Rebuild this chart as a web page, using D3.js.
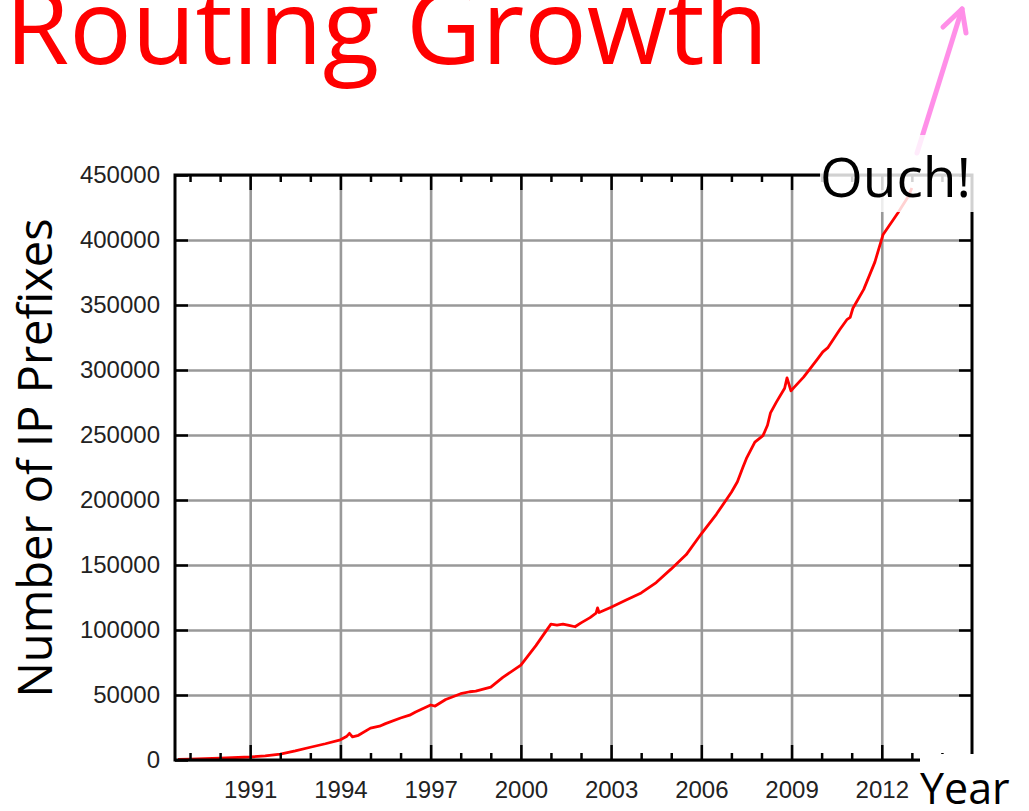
<!DOCTYPE html>
<html>
<head>
<meta charset="utf-8">
<script src="https://cdn.jsdelivr.net/npm/d3@7"></script>
<style>
  html, body { margin: 0; padding: 0; background: #fff; }
  svg { display: block; }
</style>
</head>
<body>
<svg id="chart" width="1029" height="811"></svg>
<script>
// ---- data ----
const years = [1988.6, 1989.0, 1990.0, 1991.0, 1991.5, 1992.0, 1992.5, 1993.0, 1993.5, 1994.0,
  1994.2, 1994.3, 1994.4, 1994.6, 1995.0, 1995.3, 1995.5, 1996.0, 1996.3, 1996.5, 1997.0, 1997.15,
  1997.5, 1998.0, 1998.3, 1998.5, 1999.0, 1999.4, 2000.0, 2000.5, 2000.8, 2001.0,
  2001.2, 2001.4, 2001.6, 2001.8, 2002.0, 2002.3, 2002.5, 2002.55, 2002.6, 2003.0,
  2003.5, 2004.0, 2004.5, 2005.0, 2005.5, 2006.0, 2006.5, 2007.0, 2007.2, 2007.38, 2007.5,
  2007.78, 2008.05, 2008.2, 2008.3, 2008.5, 2008.77, 2008.85, 2008.98, 2009.1, 2009.4,
  2009.6, 2009.88, 2010.04, 2010.2, 2010.6, 2010.85, 2010.95, 2011.04, 2011.4, 2011.77,
  2012.04, 2012.54, 2012.87, 2013.0];
const prefixes = [500, 700, 1500, 2300, 3200, 4600, 7000, 9800, 12500, 15500,
  18000, 20500, 17800, 19000, 24500, 26000, 28000, 32300, 34500, 37000, 42300, 41500,
  46500, 51000, 52500, 53000, 56000, 63500, 73000, 88000, 98000, 104500,
  103800, 104500, 103500, 102500, 105500, 109500, 113000, 117000, 113500, 117500,
  123000, 128500, 136500, 147000, 158000, 174000, 189000, 206000, 214000, 225000, 232000,
  244500, 249500, 257500, 267000, 275500, 286000, 294000, 284000, 287000, 294500,
  300500, 309000, 314000, 317000, 331000, 339000, 340500, 347500, 362000, 383000,
  404000, 421000, 433000, 440000];

const majorYears = [1991, 1994, 1997, 2000, 2003, 2006, 2009, 2012];
const majorYearLabels = ["1991", "1994", "1997", "2000", "2003", "2006", "2009", "2012"];
const minorYears = [1989, 1990, 1992, 1993, 1995, 1996, 1998, 1999, 2001, 2002, 2004, 2005,
  2007, 2008, 2010, 2011, 2013, 2014];
const yTicks = [0, 50000, 100000, 150000, 200000, 250000, 300000, 350000, 400000, 450000];
const yTickLabels = ["0", "50000", "100000", "150000", "200000", "250000", "300000", "350000", "400000", "450000"];

const titleText = "Routing Growth";
const yAxisTitle = "Number of IP Prefixes";
const xAxisTitle = "Year";
const calloutText = "Ouch!";

// ---- layout ----
const L = 175, R = 972, T = 175, B = 760;
const svg = d3.select("#chart");

const x = d3.scaleLinear().domain([1988.5, 2015]).range([L, R]);
const y = d3.scaleLinear().domain([0, 450000]).range([B, T]);

const tickFont = "'Liberation Sans', Arial, sans-serif";
const textFont = "'Open Sans', 'Noto Sans', sans-serif";

// grid
const gx = svg.append("g").attr("transform", `translate(0,${B})`)
  .call(d3.axisBottom(x).tickValues(majorYears).tickSize(-(B - T)).tickFormat(""));
gx.select(".domain").remove();
gx.selectAll("line").attr("stroke", "#999").attr("stroke-width", 2.6);

const gy = svg.append("g").attr("transform", `translate(${L},0)`)
  .call(d3.axisLeft(y).tickValues(yTicks).tickSize(-(R - L)).tickFormat(""));
gy.select(".domain").remove();
gy.selectAll("line").attr("stroke", "#999").attr("stroke-width", 2.6);

// curve
const data = years.map((yr, i) => ({ yr, v: prefixes[i] }));
svg.append("path")
  .datum(data)
  .attr("fill", "none")
  .attr("stroke", "#ff0000")
  .attr("stroke-width", 2.8)
  .attr("stroke-linejoin", "round")
  .attr("d", d3.line().x(d => x(d.yr)).y(d => y(d.v)));

// axes with inward ticks
function styleAxis(g) {
  g.select(".domain").remove();
  g.selectAll("line").attr("stroke", "#000").attr("stroke-width", 2.5);
  g.selectAll("text").attr("fill", "#222").attr("font-family", tickFont).attr("font-size", 24);
}

svg.append("g").attr("transform", `translate(0,${B})`)
  .call(d3.axisBottom(x).tickValues(majorYears).tickSize(-15).tickPadding(21)
    .tickFormat((d, i) => majorYearLabels[i]))
  .call(styleAxis);
svg.append("g").attr("transform", `translate(0,${B})`)
  .call(d3.axisBottom(x).tickValues(minorYears).tickSize(-7).tickFormat(""))
  .call(styleAxis);
svg.append("g").attr("transform", `translate(0,${T})`)
  .call(d3.axisTop(x).tickValues(majorYears).tickSize(-15).tickFormat(""))
  .call(styleAxis);
svg.append("g").attr("transform", `translate(0,${T})`)
  .call(d3.axisTop(x).tickValues(minorYears).tickSize(-7).tickFormat(""))
  .call(styleAxis);
svg.append("g").attr("transform", `translate(${L},0)`)
  .call(d3.axisLeft(y).tickValues(yTicks).tickSize(-13).tickPadding(15)
    .tickFormat((d, i) => yTickLabels[i]))
  .call(styleAxis);
svg.append("g").attr("transform", `translate(${R},0)`)
  .call(d3.axisRight(y).tickValues(yTicks).tickSize(-13).tickFormat(""))
  .call(styleAxis);

// frame
svg.append("rect")
  .attr("x", L).attr("y", T).attr("width", R - L).attr("height", B - T)
  .attr("fill", "none").attr("stroke", "#000").attr("stroke-width", 3);

// arrow
const pink = "#ff8fe8";
svg.append("line").attr("x1", 917).attr("y1", 153).attr("x2", 962).attr("y2", 9)
  .attr("stroke", pink).attr("stroke-width", 5).attr("stroke-linecap", "round");
svg.append("path").attr("d", "M943,27 L962,9 L966,33")
  .attr("fill", "none").attr("stroke", pink).attr("stroke-width", 5)
  .attr("stroke-linecap", "round").attr("stroke-linejoin", "round");

// callout box + text
svg.append("rect").attr("x", 820).attr("y", 135).attr("width", 156).attr("height", 77)
  .attr("fill", "#fff").attr("fill-opacity", 0.82);
svg.append("text").attr("x", 820).attr("y", 197)
  .attr("font-family", textFont).attr("font-size", 55).attr("fill", "#000")
  .text(calloutText);

// Year box + text
svg.append("rect").attr("x", 920).attr("y", 754).attr("width", 109).attr("height", 57)
  .attr("fill", "#fff");
svg.append("text").attr("x", 920).attr("y", 804)
  .attr("font-family", textFont).attr("font-size", 43).attr("fill", "#000")
  .text(xAxisTitle);

// y axis title
svg.append("text")
  .attr("transform", "translate(52,458) rotate(-90)")
  .attr("text-anchor", "middle")
  .attr("font-family", textFont).attr("font-size", 47).attr("fill", "#000")
  .text(yAxisTitle);

// title
svg.append("text").attr("x", 5).attr("y", 64)
  .attr("font-family", textFont).attr("font-size", 104).attr("fill", "#ff0000")
  .text(titleText);
</script>
</body>
</html>
